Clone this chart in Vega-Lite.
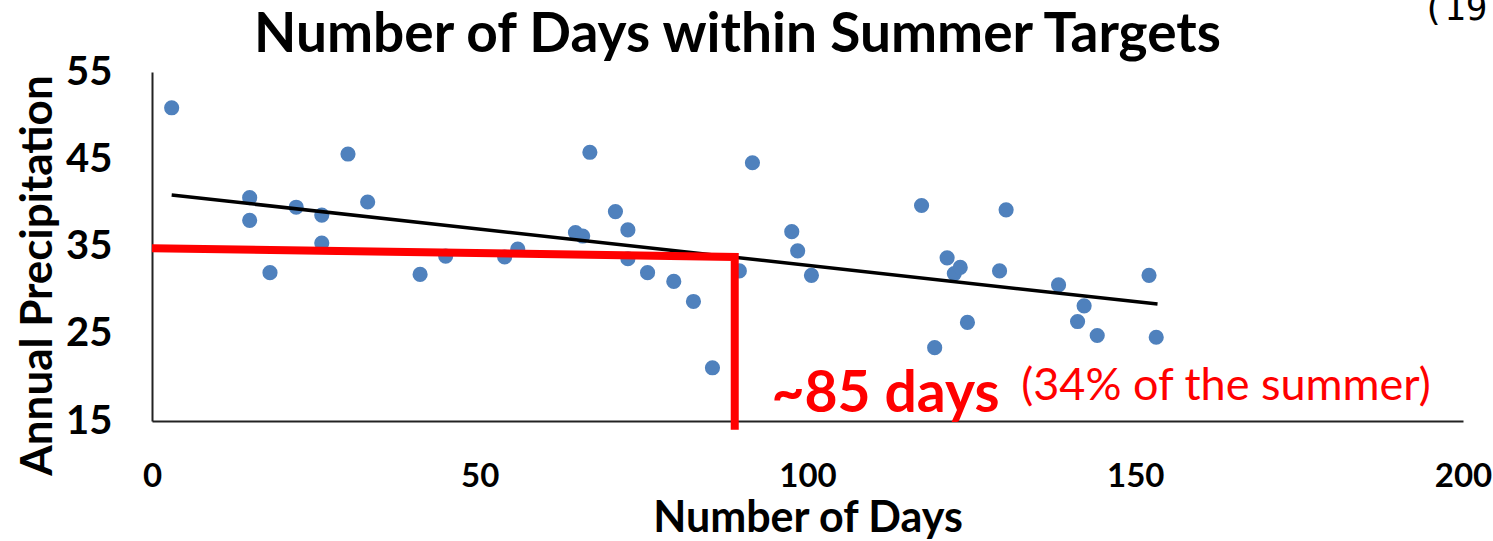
{
  "$schema": "https://vega.github.io/schema/vega-lite/v6.json",
  "autosize": {"type": "none"},
  "width": 1311,
  "height": 349,
  "padding": {"left": 152, "top": 72, "right": 30, "bottom": 120},
  "background": "white",
  "config": {
    "view": {"stroke": null},
    "font": "Lato",
    "axis": {"grid": false, "ticks": false, "labelFlush": false, "domainColor": "#222222", "domainWidth": 2, "labelColor": "black", "titleColor": "black", "labelFont": "Lato", "titleFont": "Lato", "labelFontWeight": "bold", "titleFontWeight": "bold"}
  },
  "title": {
    "text": "Number of Days within Summer Targets",
    "font": "Lato",
    "fontSize": 55,
    "fontWeight": "bold",
    "color": "black",
    "anchor": "middle",
    "dx": -70,
    "offset": -73
  },
  "datasets": {
    "points": [
      {"days": 3.0, "precip": 50.9},
      {"days": 14.9, "precip": 40.6},
      {"days": 14.9, "precip": 38.0},
      {"days": 18.0, "precip": 32.0},
      {"days": 22.0, "precip": 39.5},
      {"days": 25.9, "precip": 38.6},
      {"days": 25.9, "precip": 35.4},
      {"days": 29.9, "precip": 45.6},
      {"days": 32.9, "precip": 40.1},
      {"days": 40.9, "precip": 31.8},
      {"days": 44.8, "precip": 33.9},
      {"days": 53.8, "precip": 33.8},
      {"days": 55.8, "precip": 34.7},
      {"days": 64.6, "precip": 36.6},
      {"days": 65.7, "precip": 36.2},
      {"days": 66.8, "precip": 45.8},
      {"days": 70.7, "precip": 39.0},
      {"days": 72.6, "precip": 36.9},
      {"days": 72.6, "precip": 33.6},
      {"days": 75.6, "precip": 32.0},
      {"days": 79.6, "precip": 31.0},
      {"days": 82.6, "precip": 28.7},
      {"days": 85.5, "precip": 21.1},
      {"days": 89.6, "precip": 32.2},
      {"days": 91.6, "precip": 44.6},
      {"days": 97.6, "precip": 36.7},
      {"days": 98.5, "precip": 34.5},
      {"days": 100.6, "precip": 31.7},
      {"days": 117.4, "precip": 39.7},
      {"days": 119.4, "precip": 23.4},
      {"days": 121.3, "precip": 33.7},
      {"days": 122.4, "precip": 31.9},
      {"days": 123.3, "precip": 32.6},
      {"days": 124.4, "precip": 26.3},
      {"days": 129.3, "precip": 32.2},
      {"days": 130.3, "precip": 39.2},
      {"days": 138.3, "precip": 30.6},
      {"days": 141.2, "precip": 26.4},
      {"days": 142.2, "precip": 28.2},
      {"days": 144.2, "precip": 24.8},
      {"days": 152.1, "precip": 31.7},
      {"days": 153.2, "precip": 24.6}
    ],
    "trend": [
      {"days": 3.0, "precip": 40.9},
      {"days": 153.4, "precip": 28.4}
    ],
    "marker": [
      {"order": 1, "days": 0, "precip": 34.8},
      {"order": 2, "days": 88.9, "precip": 33.8},
      {"order": 3, "days": 88.9, "precip": 14.0}
    ],
    "notes": [
      {"days": 94.5, "precip": 16.0, "label": "~85 days", "kind": "big"},
      {"days": 132.6, "precip": 17.4, "label": "(34% of the summer)", "kind": "small"},
      {"days": 193.8, "precip": 61.0, "label": "(19", "kind": "corner"}
    ]
  },
  "layer": [
    {
      "data": {"name": "points"},
      "mark": {"type": "point", "filled": true, "size": 230, "color": "#4F81BD", "opacity": 1},
      "encoding": {
        "x": {
          "field": "days", "type": "quantitative",
          "scale": {"domain": [0, 200], "nice": false, "zero": false},
          "axis": {"values": [0, 50, 100, 150, 200], "labelFontSize": 33, "labelPadding": 39, "title": "Number of Days", "titleFontSize": 43, "titleY": 97, "titleBaseline": "middle"}
        },
        "y": {
          "field": "precip", "type": "quantitative",
          "scale": {"domain": [15, 55], "nice": false, "zero": false},
          "axis": {"values": [15, 25, 35, 45, 55], "labelFontSize": 40, "labelPadding": 40, "title": "Annual Precipitation", "titleFontSize": 44, "titleX": -114, "titleY": 203, "titleBaseline": "middle", "titleAlign": "center", "titleAngle": -90}
        }
      }
    },
    {
      "data": {"name": "trend"},
      "mark": {"type": "line", "color": "black", "strokeWidth": 3.5},
      "encoding": {
        "x": {"field": "days", "type": "quantitative"},
        "y": {"field": "precip", "type": "quantitative"}
      }
    },
    {
      "data": {"name": "marker"},
      "mark": {"type": "line", "color": "#FF0000", "strokeWidth": 8, "strokeJoin": "miter", "strokeCap": "butt"},
      "encoding": {
        "x": {"field": "days", "type": "quantitative"},
        "y": {"field": "precip", "type": "quantitative"},
        "order": {"field": "order"}
      }
    },
    {
      "data": {"name": "notes"},
      "transform": [{"filter": "datum.kind === 'big'"}],
      "mark": {"type": "text", "color": "#FF0000", "fontSize": 57, "fontWeight": "bold", "align": "left", "baseline": "alphabetic", "font": "Lato"},
      "encoding": {
        "x": {"field": "days", "type": "quantitative"},
        "y": {"field": "precip", "type": "quantitative"},
        "text": {"field": "label"}
      }
    },
    {
      "data": {"name": "notes"},
      "transform": [{"filter": "datum.kind === 'small'"}],
      "mark": {"type": "text", "color": "#FF0000", "fontSize": 45, "align": "left", "baseline": "alphabetic", "font": "Lato"},
      "encoding": {
        "x": {"field": "days", "type": "quantitative"},
        "y": {"field": "precip", "type": "quantitative"},
        "text": {"field": "label"}
      }
    },
    {
      "data": {"name": "notes"},
      "transform": [{"filter": "datum.kind === 'corner'"}],
      "mark": {"type": "text", "color": "black", "fontSize": 36, "align": "left", "baseline": "alphabetic", "font": "DejaVu Sans Mono"},
      "encoding": {
        "x": {"field": "days", "type": "quantitative"},
        "y": {"field": "precip", "type": "quantitative"},
        "text": {"field": "label"}
      }
    }
  ]
}
